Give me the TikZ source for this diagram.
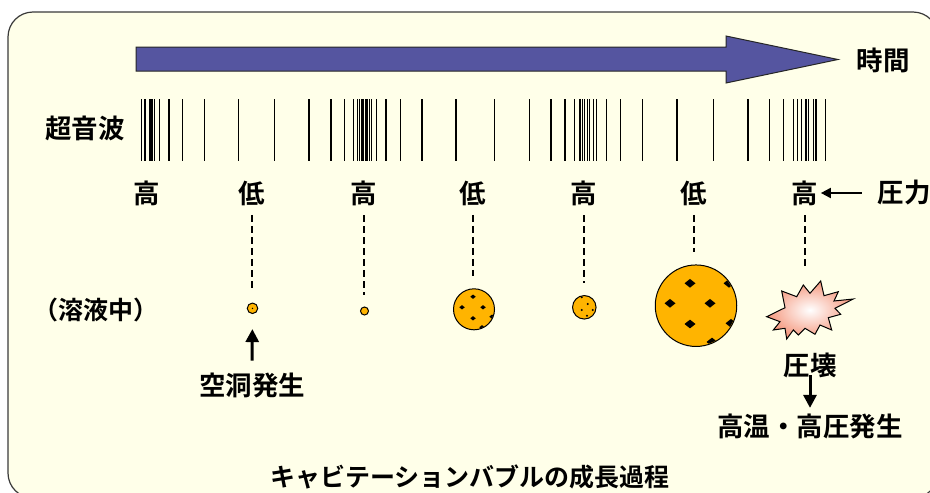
\documentclass[tikz,border=0pt]{standalone}
\usepackage{fontspec}
\setmainfont{Noto Sans CJK JP}[BoldFont={* Bold}]
\usetikzlibrary{arrows.meta, shapes.geometric}
\definecolor{cream}{HTML}{FFFFE9}
\definecolor{cframe}{HTML}{3A3A3A}
\definecolor{ctime}{HTML}{5555A0}
\definecolor{cbubble}{HTML}{FFB400}
\definecolor{cburst}{HTML}{F5987E}
\tikzset{
  every picture/.style={font=\bfseries\fontsize{26.5}{30}\selectfont, line width=1.2pt},
  small/.style={font=\bfseries\fontsize{25}{30}\selectfont},
  phase/.style={inner sep=2pt},
  bubble/.style={circle, draw=black, fill=cbubble, line width=1pt, inner sep=0pt, minimum size=#1},
  pit/.style={diamond, fill=black, inner sep=0pt, minimum width=#1, minimum height=0.8*#1},
  guide/.style={dash pattern=on 7pt off 4pt, line width=1.2pt, shorten >=12pt, shorten <=7pt},
  arrow/.style={-{Triangle[length=13pt, width=13pt]}, line width=3pt},
  bar/.style={line width=1.3pt},
}

\begin{document}
\begin{tikzpicture}[x=1pt, y=-1pt]
  \useasboundingbox (0,0) rectangle (930,493);
  \draw[fill=cream, draw=cframe, rounded corners=25pt] (8,12) rectangle (938,498);
  % time axis
  \draw[fill=ctime, draw=black!85, line width=1pt] (136,47) -- (726,47) -- (726,36) -- (838,59.5)
    -- (726,83) -- (726,71) -- (136,71) -- cycle;
  \node (time) at (883,60) {時間};
  % ultrasound as a pressure wave
  \node (wave) at (85,128) {超音波};
  \foreach \x in {141.7,144.3,145.7,149.3,151,152.3,154.7,159.7,169,182.7,204.7,238.7,274.7,309,
      331,344.7,353.3,357.3,359.3,362,363.3,366,367.3,369.3,371.3,376.7,386,400.7,422,456,494.7,529.3,
      551,565,574.3,580,582.3,584.3,587.3,589.3,593.3,596.7,606.7,620.7,642.7,677,713.7,
      748,769.7,783.7,793.3,797.3,801.7,806,808.3,813.3,816,825.7}
    \draw[bar] (\x,99) -- (\x,161);
  \foreach \t/\x [count=\i] in {高/147, 低/252, 高/364, 低/473, 高/584, 低/694, 高/805}
    \node[phase] (p\i) at (\x,193) {\t};
  \node (pressure) at (904,193) {圧力};
  \draw[-{Triangle[length=10pt, width=10pt]}, line width=2pt, shorten <=12pt] (pressure.west) -- (p7.east);
  % bubbles
  \node[small] (soln) at (96,310) {（溶液中）};
  \node[bubble=10.5] (b1) at (252.5,308.3) {};
  \fill (b1) circle (0.8);
  \node[bubble=8] (b2) at (364.5,311) {};
  \node[bubble=41] (b3) at (474,309.3) {};
  \begin{scope}
    \clip (b3.center) circle (20);
    \foreach \x/\y in {473/296.7, 462/307.3, 483/307.3, 473/318.3, 482/327.3, 492/316.7}
      \node[pit=6] at (\x,\y) {};
  \end{scope}
  \node[bubble=23.5] (b4) at (584.3,307.3) {};
  \foreach \x/\y in {581.7/297.3, 587.7/304, 581.7/310, 592.7/310, 587/315.7}
    \fill (\x,\y) circle (1.1);
  \node[bubble=81.5] (b5) at (696,305.7) {};
  \begin{scope}
    \clip (b5.center) circle (40);
    \foreach \x/\y in {690/283.3, 670/303.3, 710/303.3, 690/324, 729/283.3, 731/323.3, 712/342}
      \node[pit=11.5] at (\x,\y) {};
  \end{scope}
  % collapse
  \draw[draw=black, line width=1pt, inner color=white, outer color=cburst]
    (766.7,316.7) -- (785,307.7) -- (781.7,291) -- (796.7,296.7) -- (803.3,285) -- (810,293.3)
    -- (820.7,281) -- (824,295.7) -- (838.3,291.7) -- (834,301) -- (853.3,299) -- (835,308.3)
    -- (840.7,314.3) -- (828.3,317.7) -- (831.7,330) -- (820,325) -- (815,334.3) -- (805,328.3)
    -- (798.3,335) -- (793.3,330) -- (786.7,339) -- (785,328.3) -- (773.3,330) -- (780,321.7) -- cycle;
  \node[inner sep=0pt, minimum width=87pt, minimum height=58pt] (burst) at (810,310) {};
  \foreach \i/\b in {2/b1, 3/b2, 4/b3, 5/b4, 6/b5, 7/burst}
    \draw[guide] (p\i.south) -- (p\i.south |- \b.north);
  % labels below
  \node (birth) at (252,385) {空洞発生};
  \draw[arrow, shorten <=8pt, shorten >=15pt] (birth.north) -- (b1.south);
  \node[inner sep=0pt] (collapse) at (810,365) {圧壊};
  \node[inner sep=0pt] (hot) at (810,426) {高温・高圧発生};
  \draw[arrow, shorten <=-3pt, shorten >=5pt] (collapse.south) -- (hot.north);
  \node[small] (title) at (470,477) {キャビテーションバブルの成長過程};
\end{tikzpicture}
\end{document}
